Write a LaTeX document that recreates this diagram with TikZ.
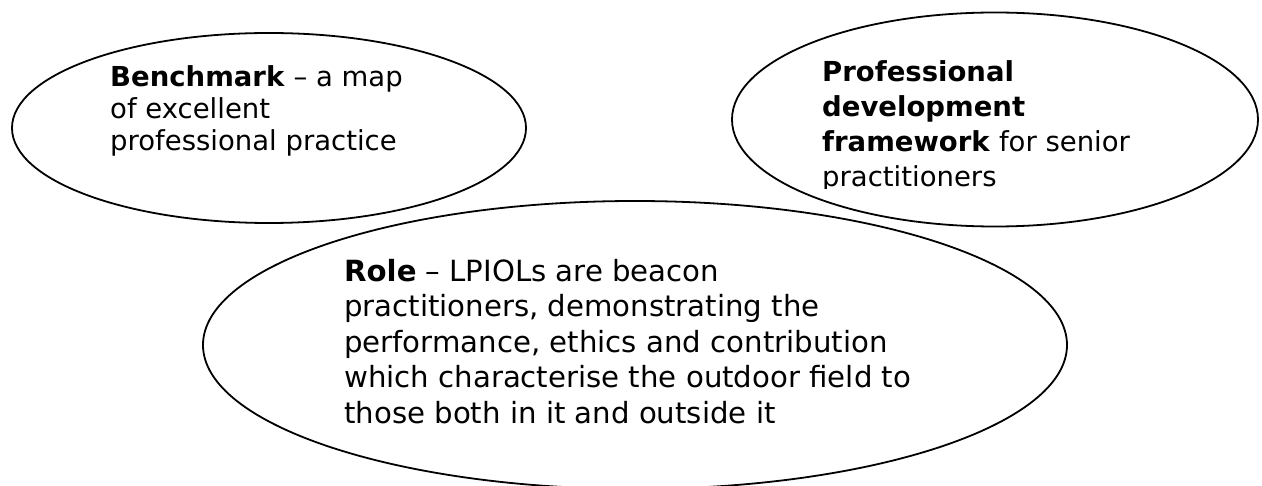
\documentclass[tikz,border=0pt]{standalone}
\usepackage{fontspec}
\setmainfont{DejaVu Sans}
\usetikzlibrary{shapes.geometric}
\begin{document}
\begin{tikzpicture}[x=1bp,y=-1bp,
  bubble/.style={draw=black,line width=1.8bp,ellipse,inner sep=0pt,outer sep=0pt},
  lineA/.style={anchor=base west,inner sep=0pt,font=\fontsize{27.5bp}{32bp}\selectfont},
  lineB/.style={anchor=base west,inner sep=0pt,font=\fontsize{27.5bp}{35bp}\selectfont},
  lineC/.style={anchor=base west,inner sep=0pt,font=\fontsize{29.2bp}{35bp}\selectfont}]
\useasboundingbox (0,0) rectangle (1262,486);
\begin{scope}
\clip (0,0) rectangle (1262,486);
% ellipses
\node[bubble,minimum width=514bp,minimum height=190bp] (bench) at (269,128) {};
\node[bubble,minimum width=526bp,minimum height=214bp] (frame) at (995,119.5) {};
\node[bubble,minimum width=864bp,minimum height=288bp] (role) at (635,345) {};
% benchmark text
\node[lineA] (b1) at (110,87) {\textbf{Benchmark} – a map};
\node[lineA] (b2) at (110,119) {of excellent};
\node[lineA] (b3) at (110,151) {professional practice};
% framework text
\node[lineB] (f1) at (822,82) {\textbf{Professional}};
\node[lineB] (f2) at (822,117) {\textbf{development}};
\node[lineB] (f3) at (822,152) {\textbf{framework} for senior};
\begin{scope}
\clip (800,0) rectangle (1240,189);
\node[lineB] (f4) at (822,187) {practitioners};
\end{scope}
% role text
\node[lineC] (r1) at (344,281.7) {\textbf{Role} – LPIOLs are beacon};
\node[lineC] (r2) at (344,317) {practitioners, demonstrating the};
\node[lineC] (r3) at (344,352.3) {performance, ethics and contribution};
\node[lineC] (r4) at (344,387.6) {which characterise the outdoor field to};
\node[lineC] (r5) at (344,423) {those both in it and outside it};
\end{scope}
\end{tikzpicture}
\end{document}
